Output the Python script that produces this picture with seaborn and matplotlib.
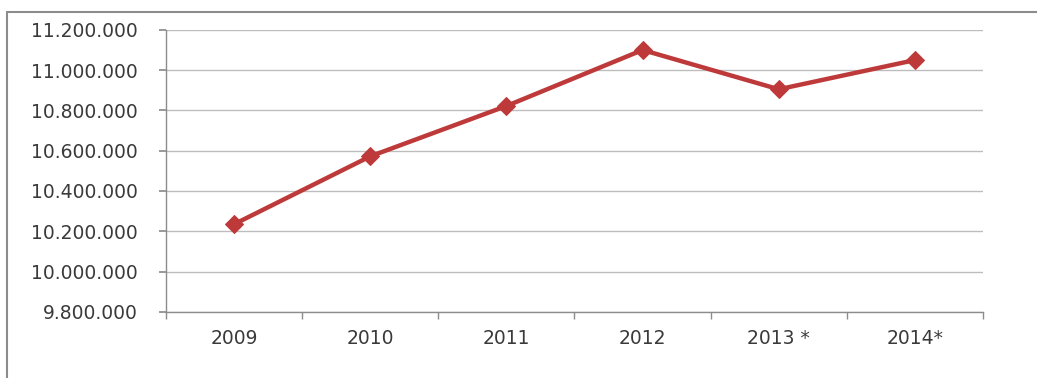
import matplotlib
matplotlib.use("Agg")
import matplotlib.pyplot as plt
import seaborn as sns
import pandas as pd
import numpy as np
from matplotlib.lines import Line2D
from matplotlib.ticker import FuncFormatter, FixedLocator

years = ["2009", "2010", "2011", "2012", "2013 *", "2014*"]
values = [10235000, 10572000, 10822000, 11100000, 10905000, 11050000]
y_ticks = [9800000, 10000000, 10200000, 10400000, 10600000, 10800000, 11000000, 11200000]

sns.set_theme(style="white")
plt.rcParams['font.family'] = ['DejaVu Sans']

df = pd.DataFrame({"year": years, "value": values})

fig = plt.figure(figsize=(10.37, 3.78), dpi=100)
ax = fig.add_axes([0.160, 0.175, 0.788, 0.746])

sns.lineplot(data=df, x="year", y="value", ax=ax, sort=False, color="#BE3A3A",
             linewidth=3.2, marker="D", markersize=9, markeredgecolor="#BE3A3A")

ax.set_xlim(-0.5, len(years) - 0.5)
ax.set_ylim(y_ticks[0], y_ticks[-1])
ax.set_yticks(y_ticks)
ax.yaxis.set_major_formatter(FuncFormatter(lambda v, p: f"{int(v):,}".replace(",", ".")))
ax.grid(axis="y", color="#BDBDBD", linewidth=1)
ax.set_axisbelow(True)
ax.set_xlabel("")
ax.set_ylabel("")

for s in ["top", "right"]:
    ax.spines[s].set_visible(False)
for s in ["left", "bottom"]:
    ax.spines[s].set_color("#8C8C8C")
    ax.spines[s].set_linewidth(1)

ax.tick_params(axis="y", which="major", direction="out", length=5, color="#8C8C8C",
               left=True, labelsize=13.5, labelcolor="#3A3A3A", pad=15)
ax.tick_params(axis="x", which="major", length=0, labelsize=13.5, labelcolor="#3A3A3A", pad=12)
ax.xaxis.set_minor_locator(FixedLocator(np.arange(-0.5, len(years), 1.0)))
ax.tick_params(axis="x", which="minor", direction="out", length=5, color="#8C8C8C", bottom=True)

# outer chart frame
fig.add_artist(Line2D([7/1037, 7/1037], [0, 1 - 12/378], transform=fig.transFigure,
                      color="#8C8C8C", linewidth=1.5))
fig.add_artist(Line2D([7/1037, 1], [1 - 12/378, 1 - 12/378], transform=fig.transFigure,
                      color="#8C8C8C", linewidth=1.5))

fig.savefig("out.png", dpi=100)
